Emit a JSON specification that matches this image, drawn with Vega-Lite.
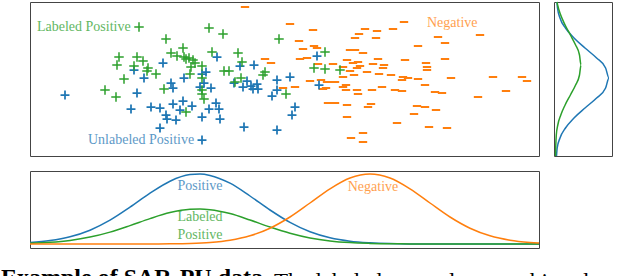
{
  "$schema": "https://vega.github.io/schema/vega-lite/v6.json",
  "padding": {"left": 0, "top": -2, "right": 0, "bottom": 0},
  "background": "white",
  "spacing": 10,
  "title": {"text": "The labeled examples are a biased sample of the positives", "orient": "bottom", "anchor": "start", "frame": "group", "dx": 244, "offset": -2, "baseline": "alphabetic", "font": "Liberation Serif", "fontSize": 23, "fontWeight": "normal", "color": "black"},
  "config": {
    "view": {"stroke": "#444444", "strokeWidth": 1},
    "text": {"font": "Liberation Serif", "fontSize": 14}
  },
  "datasets": {
    "pts": [
      {"s":"N","x":215,"y":149},{"s":"N","x":260,"y":132},{"s":"N","x":283,"y":126},{"s":"N","x":269,"y":115},{"s":"N","x":284,"y":110},
      {"s":"N","x":287,"y":108},{"s":"N","x":273,"y":107},{"s":"N","x":270,"y":97},{"s":"N","x":277,"y":98},{"s":"N","x":288,"y":92},
      {"s":"N","x":303,"y":92},{"s":"N","x":280,"y":75},{"s":"N","x":291,"y":76},{"s":"N","x":297,"y":74},{"s":"N","x":305,"y":74},
      {"s":"N","x":265,"y":69},{"s":"N","x":253,"y":68},{"s":"N","x":296,"y":68},{"s":"N","x":293,"y":67},{"s":"N","x":298,"y":53},
      {"s":"N","x":305,"y":53},{"s":"N","x":317,"y":51},{"s":"N","x":317,"y":39},{"s":"N","x":321,"y":18},{"s":"N","x":333,"y":23},
      {"s":"N","x":333,"y":14},{"s":"N","x":335,"y":127},{"s":"N","x":347,"y":125},{"s":"N","x":363,"y":127},{"s":"N","x":374,"y":134},
      {"s":"N","x":329,"y":122},{"s":"N","x":325,"y":118},{"s":"N","x":346,"y":118},{"s":"N","x":320,"y":106},{"s":"N","x":325,"y":106},
      {"s":"N","x":333,"y":103},{"s":"N","x":317,"y":96},{"s":"N","x":323,"y":93},{"s":"N","x":328,"y":94},{"s":"N","x":343,"y":92},
      {"s":"N","x":354,"y":91},{"s":"N","x":348,"y":97},{"s":"N","x":375,"y":96},{"s":"N","x":313,"y":89},{"s":"N","x":330,"y":90},
      {"s":"N","x":327,"y":88},{"s":"N","x":320,"y":85},{"s":"N","x":337,"y":84},{"s":"N","x":353,"y":88},{"s":"N","x":349,"y":82},
      {"s":"N","x":361,"y":81},{"s":"N","x":313,"y":79},{"s":"N","x":324,"y":81},{"s":"N","x":373,"y":79},{"s":"N","x":378,"y":78},
      {"s":"N","x":372,"y":76},{"s":"N","x":388,"y":77},{"s":"N","x":316,"y":71},{"s":"N","x":313,"y":69},{"s":"N","x":316,"y":66},
      {"s":"N","x":327,"y":66},{"s":"N","x":328,"y":62},{"s":"N","x":342,"y":66},{"s":"N","x":352,"y":69},{"s":"N","x":365,"y":66},
      {"s":"N","x":372,"y":65},{"s":"N","x":341,"y":52},{"s":"N","x":338,"y":49},{"s":"N","x":367,"y":33},{"s":"N","x":387,"y":50},
      {"s":"N","x":384,"y":42},{"s":"N","x":388,"y":110},{"s":"N","x":408,"y":119},{"s":"N","x":415,"y":113},{"s":"N","x":450,"y":121},
      {"s":"N","x":415,"y":97},{"s":"N","x":396,"y":93},{"s":"N","x":397,"y":89},{"s":"N","x":397,"y":86},{"s":"N","x":421,"y":78},
      {"s":"N","x":395,"y":71},{"s":"N","x":463,"y":79},{"s":"N","x":492,"y":79},{"s":"N","x":497,"y":75},{"s":"N","x":405,"y":64},
      {"s":"N","x":412,"y":63},{"s":"N","x":476,"y":65},{"s":"N","x":448,"y":59},{"s":"N","x":395,"y":49},{"s":"N","x":406,"y":46},
      {"s":"N","x":399,"y":29},{"s":"N","x":417,"y":28},{"s":"N","x":235,"y":97},{"s":"N","x":241,"y":93},
      {"s":"U","x":35,"y":61},{"s":"U","x":104,"y":86},{"s":"U","x":114,"y":78},{"s":"U","x":107,"y":63},{"s":"U","x":101,"y":47},
      {"s":"U","x":121,"y":49},{"s":"U","x":130,"y":48},{"s":"U","x":130,"y":28},{"s":"U","x":133,"y":93},{"s":"U","x":187,"y":99},
      {"s":"U","x":210,"y":90},{"s":"U","x":224,"y":91},{"s":"U","x":176,"y":84},{"s":"U","x":172,"y":82},{"s":"U","x":154,"y":78},
      {"s":"U","x":141,"y":73},{"s":"U","x":143,"y":68},{"s":"U","x":170,"y":69},{"s":"U","x":181,"y":68},{"s":"U","x":174,"y":73},
      {"s":"U","x":204,"y":73},{"s":"U","x":213,"y":69},{"s":"U","x":217,"y":75},{"s":"U","x":221,"y":70},{"s":"U","x":227,"y":72},
      {"s":"U","x":228,"y":67},{"s":"U","x":223,"y":67},{"s":"U","x":247,"y":76},{"s":"U","x":247,"y":66},{"s":"U","x":242,"y":60},
      {"s":"U","x":260,"y":79},{"s":"U","x":143,"y":52},{"s":"U","x":153,"y":55},{"s":"U","x":162,"y":50},{"s":"U","x":150,"y":46},
      {"s":"U","x":136,"y":41},{"s":"U","x":137,"y":37},{"s":"U","x":146,"y":36},{"s":"U","x":186,"y":53},{"s":"U","x":189,"y":47},
      {"s":"U","x":179,"y":47},{"s":"U","x":172,"y":39},{"s":"U","x":190,"y":37},{"s":"U","x":214,"y":29},{"s":"U","x":247,"y":26},
      {"s":"U","x":172,"y":16},{"s":"U","x":287,"y":100},{"s":"U","x":289,"y":71},{"s":"U","x":265,"y":49},{"s":"U","x":262,"y":41},
      {"s":"L","x":109,"y":129},{"s":"L","x":89,"y":99},{"s":"L","x":87,"y":91},{"s":"L","x":107,"y":99},{"s":"L","x":113,"y":95},
      {"s":"L","x":104,"y":90},{"s":"L","x":118,"y":88},{"s":"L","x":117,"y":85},{"s":"L","x":126,"y":82},{"s":"L","x":94,"y":77},
      {"s":"L","x":75,"y":66},{"s":"L","x":86,"y":59},{"s":"L","x":179,"y":128},{"s":"L","x":136,"y":117},{"s":"L","x":193,"y":122},
      {"s":"L","x":249,"y":117},{"s":"L","x":153,"y":108},{"s":"L","x":141,"y":103},{"s":"L","x":147,"y":100},{"s":"L","x":154,"y":99},
      {"s":"L","x":159,"y":98},{"s":"L","x":163,"y":96},{"s":"L","x":165,"y":93},{"s":"L","x":156,"y":97},{"s":"L","x":182,"y":104},
      {"s":"L","x":208,"y":103},{"s":"L","x":212,"y":94},{"s":"L","x":172,"y":90},{"s":"L","x":161,"y":89},{"s":"L","x":160,"y":82},
      {"s":"L","x":194,"y":85},{"s":"L","x":199,"y":85},{"s":"L","x":235,"y":84},{"s":"L","x":233,"y":81},{"s":"L","x":172,"y":78},
      {"s":"L","x":211,"y":78},{"s":"L","x":205,"y":74},{"s":"L","x":134,"y":67},{"s":"L","x":172,"y":66},{"s":"L","x":172,"y":62},
      {"s":"L","x":174,"y":57},{"s":"L","x":156,"y":44},{"s":"L","x":256,"y":62},{"s":"L","x":295,"y":104},{"s":"L","x":284,"y":88},
      {"s":"L","x":295,"y":87},{"s":"L","x":310,"y":86}
    ],
    "mainLabels": [
      {"s":"L","t":"Labeled Positive","x":7,"y":129},
      {"s":"U","t":"Unlabeled Positive","x":58,"y":16},
      {"s":"N","t":"Negative","x":397,"y":133}
    ],
    "right": [
      {"s":"U","y":0,"d":2.5},{"s":"U","y":8,"d":3.2},{"s":"U","y":18,"d":6},{"s":"U","y":28,"d":11.5},{"s":"U","y":38,"d":20},
      {"s":"U","y":48,"d":31},{"s":"U","y":58,"d":42.6},{"s":"U","y":68,"d":51.6},{"s":"U","y":78,"d":55},{"s":"U","y":88,"d":51.6},
      {"s":"U","y":98,"d":42.6},{"s":"U","y":108,"d":31},{"s":"U","y":118,"d":20},{"s":"U","y":128,"d":11.5},{"s":"U","y":138,"d":6},
      {"s":"U","y":148,"d":3.5},{"s":"U","y":154,"d":3},
      {"s":"L","y":0,"d":1.5},{"s":"L","y":11,"d":1.8},{"s":"L","y":21,"d":2.3},{"s":"L","y":31,"d":3.8},{"s":"L","y":41,"d":6.8},
      {"s":"L","y":51,"d":11.1},{"s":"L","y":61,"d":16.4},{"s":"L","y":71,"d":21.6},{"s":"L","y":81,"d":25.5},{"s":"L","y":91,"d":27},
      {"s":"L","y":101,"d":25.5},{"s":"L","y":111,"d":21.6},{"s":"L","y":121,"d":16.4},{"s":"L","y":131,"d":11.1},{"s":"L","y":141,"d":6.7},
      {"s":"L","y":151,"d":3.6},{"s":"L","y":154,"d":3.0}
    ],
    "bottom": [
      {"s":"U","x":0,"d":1.4},{"s":"U","x":20,"d":3.4},{"s":"U","x":40,"d":7.2},{"s":"U","x":60,"d":13.8},{"s":"U","x":80,"d":23.8},
      {"s":"U","x":100,"d":36.8},{"s":"U","x":120,"d":50.8},{"s":"U","x":140,"d":62.8},{"s":"U","x":160,"d":69.4},{"s":"U","x":170,"d":70},
      {"s":"U","x":180,"d":68.6},{"s":"U","x":200,"d":60.8},{"s":"U","x":220,"d":48},{"s":"U","x":240,"d":34},{"s":"U","x":260,"d":21.6},
      {"s":"U","x":280,"d":12.2},{"s":"U","x":300,"d":6.2},{"s":"U","x":320,"d":2.8},{"s":"U","x":340,"d":1.2},{"s":"U","x":360,"d":0.4},
      {"s":"U","x":380,"d":0.1},{"s":"U","x":400,"d":0},{"s":"U","x":450,"d":0},{"s":"U","x":509,"d":0},
      {"s":"L","x":0,"d":0.7},{"s":"L","x":20,"d":1.7},{"s":"L","x":40,"d":3.6},{"s":"L","x":60,"d":6.9},{"s":"L","x":80,"d":11.9},
      {"s":"L","x":100,"d":18.4},{"s":"L","x":120,"d":25.4},{"s":"L","x":140,"d":31.4},{"s":"L","x":160,"d":34.7},{"s":"L","x":170,"d":35},
      {"s":"L","x":180,"d":34.3},{"s":"L","x":200,"d":30.4},{"s":"L","x":220,"d":24},{"s":"L","x":240,"d":17},{"s":"L","x":260,"d":10.8},
      {"s":"L","x":280,"d":6.1},{"s":"L","x":300,"d":3.1},{"s":"L","x":320,"d":1.4},{"s":"L","x":340,"d":0.6},{"s":"L","x":360,"d":0.2},
      {"s":"L","x":380,"d":0.1},{"s":"L","x":400,"d":0},{"s":"L","x":450,"d":0},{"s":"L","x":509,"d":0},
      {"s":"N","x":0,"d":0},{"s":"N","x":50,"d":0},{"s":"N","x":100,"d":0},{"s":"N","x":120,"d":0.05},{"s":"N","x":140,"d":0.2},
      {"s":"N","x":160,"d":0.6},{"s":"N","x":180,"d":1.6},{"s":"N","x":200,"d":3.8},{"s":"N","x":220,"d":8.2},{"s":"N","x":240,"d":15.8},
      {"s":"N","x":260,"d":27},{"s":"N","x":280,"d":41},{"s":"N","x":300,"d":55.2},{"s":"N","x":320,"d":66},{"s":"N","x":340,"d":70},
      {"s":"N","x":360,"d":66},{"s":"N","x":380,"d":55.2},{"s":"N","x":400,"d":41},{"s":"N","x":420,"d":27},{"s":"N","x":440,"d":15.8},
      {"s":"N","x":460,"d":8.2},{"s":"N","x":480,"d":3.8},{"s":"N","x":500,"d":1.6},{"s":"N","x":509,"d":1.0}
    ],
    "bottomLabels": [
      {"s":"U","t":"Positive","x":170,"y":58},
      {"s":"L","t":"Labeled","x":170,"y":27},
      {"s":"L","t":"Positive","x":170,"y":9},
      {"s":"N","t":"Negative","x":343,"y":57}
    ]
  },
  "vconcat": [
    {
      "hconcat": [
        {
          "width": 509,
          "height": 154,
          "layer": [
            {
              "data": {"name": "pts"},
              "mark": {"type": "point", "filled": false, "clip": true},
              "encoding": {
                "x": {"field": "x", "type": "quantitative", "scale": {"domain": [0, 509], "nice": false, "zero": false}, "axis": null},
                "y": {"field": "y", "type": "quantitative", "scale": {"domain": [0, 154], "nice": false, "zero": false}, "axis": null},
                "shape": {"field": "s", "type": "nominal", "scale": {"domain": ["N", "U", "L"], "range": ["M-1,0H1", "M-1,0H1M0,-1V1", "M-1,0H1M0,-1V1"]}, "legend": null},
                "color": {"field": "s", "type": "nominal", "scale": {"domain": ["N", "U", "L"], "range": ["#ff7f0e", "#1f77b4", "#2ca02c"]}, "legend": null},
                "strokeWidth": {"field": "s", "type": "nominal", "scale": {"domain": ["N", "U", "L"], "range": [2, 1.5, 3]}, "legend": null},
                "size": {"field": "s", "type": "nominal", "scale": {"domain": ["N", "U", "L"], "range": [70, 90, 90]}, "legend": null},
                "opacity": {"value": 1}
              }
            },
            {
              "data": {"name": "mainLabels"},
              "mark": {"type": "text", "align": "left", "baseline": "middle", "opacity": 0.75},
              "encoding": {
                "x": {"field": "x", "type": "quantitative"},
                "y": {"field": "y", "type": "quantitative"},
                "text": {"field": "t"},
                "color": {"field": "s", "type": "nominal", "scale": {"domain": ["N", "U", "L"], "range": ["#ff7f0e", "#1f77b4", "#2ca02c"]}, "legend": null}
              }
            }
          ]
        },
        {
          "width": 58,
          "height": 154,
          "data": {"name": "right"},
          "mark": {"type": "line", "strokeWidth": 1.5, "interpolate": "monotone"},
          "encoding": {
            "x": {"field": "d", "type": "quantitative", "scale": {"domain": [0, 58], "nice": false, "zero": false}, "axis": null},
            "y": {"field": "y", "type": "quantitative", "scale": {"domain": [0, 154], "nice": false, "zero": false}, "axis": null},
            "order": {"field": "y", "type": "quantitative"},
            "color": {"field": "s", "type": "nominal", "scale": {"domain": ["N", "U", "L"], "range": ["#ff7f0e", "#1f77b4", "#2ca02c"]}, "legend": null}
          }
        }
      ],
      "spacing": 12
    },
    {
      "width": 509,
      "height": 77,
      "title": {"text": "Example of SAR-PU data.", "orient": "bottom", "anchor": "start", "frame": "group", "dx": -29, "offset": 37, "baseline": "alphabetic", "font": "Liberation Serif", "fontSize": 24, "fontWeight": "bold", "color": "black"},
      "layer": [
        {
          "data": {"name": "bottom"},
          "mark": {"type": "line", "strokeWidth": 1.5, "interpolate": "monotone"},
          "encoding": {
            "x": {"field": "x", "type": "quantitative", "scale": {"domain": [0, 509], "nice": false, "zero": false}, "axis": null},
            "y": {"field": "d", "type": "quantitative", "scale": {"domain": [-4, 73], "nice": false, "zero": false}, "axis": null},
            "color": {"field": "s", "type": "nominal", "scale": {"domain": ["N", "U", "L"], "range": ["#ff7f0e", "#1f77b4", "#2ca02c"]}, "legend": null}
          }
        },
        {
          "data": {"name": "bottomLabels"},
          "mark": {"type": "text", "align": "center", "baseline": "middle", "opacity": 0.75},
          "encoding": {
            "x": {"field": "x", "type": "quantitative"},
            "y": {"field": "y", "type": "quantitative"},
            "text": {"field": "t"},
            "color": {"field": "s", "type": "nominal", "scale": {"domain": ["N", "U", "L"], "range": ["#ff7f0e", "#1f77b4", "#2ca02c"]}, "legend": null}
          }
        }
      ]
    }
  ]
}
